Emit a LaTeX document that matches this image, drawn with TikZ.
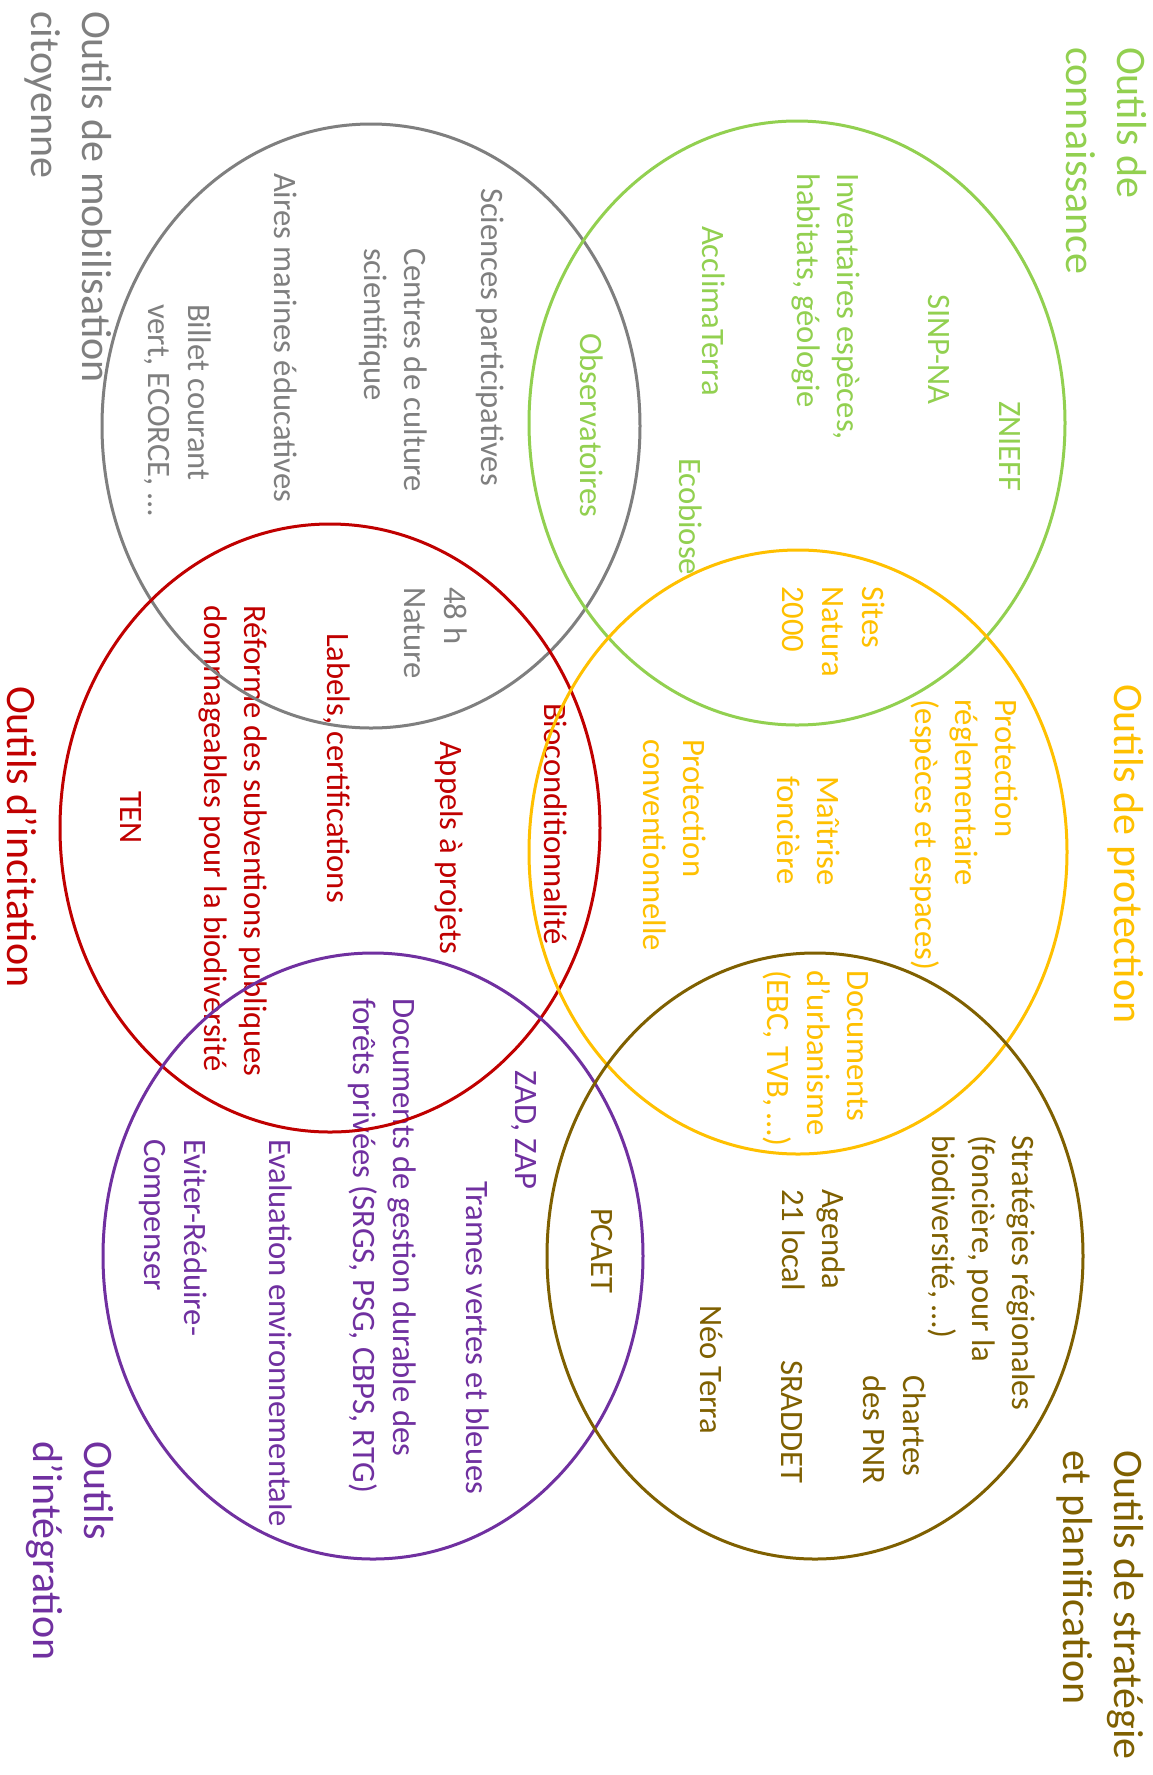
\documentclass[tikz,border=0pt]{standalone}
\usepackage{fontspec}
\setmainfont{Carlito}
\definecolor{cgrey}{HTML}{7F7F7F}
\definecolor{cgreen}{HTML}{92D050}
\definecolor{cyellow}{HTML}{FFC000}
\definecolor{cred}{HTML}{C00000}
\definecolor{cpurple}{HTML}{7030A0}
\definecolor{cbrown}{HTML}{7F6000}
\tikzset{
  lbl/.style={rotate=-90, anchor=north west, inner sep=0pt, outer sep=0pt, align=left,
    font=\fontsize{24.5}{30}\selectfont},
  ttl/.style={rotate=-90, anchor=north west, inner sep=0pt, outer sep=0pt, align=left,
    font=\fontsize{31.5}{38}\selectfont},
  ring/.style={line width=2.25pt},
}
\begin{document}
\begin{tikzpicture}[x=0.75pt,y=-0.75pt]
\fill[white] (0,0) rectangle (1153,1775);
\useasboundingbox (0,0) rectangle (1153,1775);

% titles
\node[ttl,text=cgrey]   (t1) at (117.5,11)   {\strut Outils de mobilisation\\citoyenne};
\node[ttl,text=cgreen]  (t2) at (1152.5,47)  {\strut Outils de\\connaissance};
\node[ttl,text=cred]    (t3) at (42.5,686)   {\strut Outils d’incitation};
\node[ttl,text=cyellow] (t4) at (1149.5,684) {\strut Outils de protection};
\node[ttl,text=cpurple] (t5) at (119.5,1441) {\strut Outils\\d’intégration};
\node[ttl,text=cbrown]  (t6) at (1149.5,1450) {\strut Outils de stratégie\\et planification};

% grey
\node[lbl,text=cgrey] (g1) at (509,188) {\strut Sciences participatives};
\node[lbl,text=cgrey] (g2) at (432,248) {\strut Centres de culture\\scientifique};
\node[lbl,text=cgrey] (g3) at (302,173) {\strut Aires marines éducatives};
\node[lbl,text=cgrey] (g4) at (216,304) {\strut Billet courant\\vert, ECORCE, …};
\node[lbl,text=cgrey] (g5) at (472,587) {\strut 48 h\\Nature};

% green
\node[lbl,text=cgreen] (k1) at (1027,401) {\strut ZNIEFF};
\node[lbl,text=cgreen] (k2) at (956,294) {\strut SINP-NA};
\node[lbl,text=cgreen] (k3) at (865,173) {\strut Inventaires espèces,\\habitats, géologie};
\node[lbl,text=cgreen] (k4) at (730,226) {\strut AcclimaTerra};
\node[lbl,text=cgreen] (k5) at (608,333) {\strut Observatoires};
\node[lbl,text=cgreen] (k6) at (707,458) {\strut Ecobiose};

% red
\node[lbl,text=cred] (r1) at (355,633) {\strut Labels, certifications};
\node[lbl,text=cred] (r2) at (272,605) {\strut Réforme des subventions publiques\\dommageables pour la biodiversité};
\node[lbl,text=cred] (r3) at (148,791) {\strut TEN};
\node[lbl,text=cred] (r4) at (468,741) {\strut Appels à projets};
\node[lbl,text=cred] (r5) at (572,703) {\strut Bioconditionnalité};

% yellow
\node[lbl,text=cyellow] (y1) at (890,586) {\strut Sites\\Natura\\2000};
\node[lbl,text=cyellow] (y2) at (1023,699) {\strut Protection\\réglementaire\\(espèces et espaces)};
\node[lbl,text=cyellow] (y3) at (845,776) {\strut Maîtrise\\foncière};
\node[lbl,text=cyellow] (y4) at (711,739) {\strut Protection\\conventionnelle};
\node[lbl,text=cyellow] (y5) at (875,970) {\strut Documents\\d’urbanisme\\(EBC, TVB, …)};

% purple
\node[lbl,text=cpurple] (p1) at (543,1070) {\strut ZAD, ZAP};
\node[lbl,text=cpurple] (p2) at (421,998) {\strut Documents de gestion durable des\\forêts privées (SRGS, PSG, CBPS, RTG)};
\node[lbl,text=cpurple] (p3) at (494,1181) {\strut Trames vertes et bleues};
\node[lbl,text=cpurple] (p4) at (297,1139) {\strut Evaluation environnementale};
\node[lbl,text=cpurple] (p5) at (212,1139) {\strut Eviter-Réduire-\\Compenser};

% brown
\node[lbl,text=cbrown] (b1) at (619,1208) {\strut PCAET};
\node[lbl,text=cbrown] (b2) at (850,1189) {\strut Agenda\\21 local};
\node[lbl,text=cbrown] (b3) at (728,1305) {\strut Néo Terra};
\node[lbl,text=cbrown] (b4) at (809,1360) {\strut SRADDET};
\node[lbl,text=cbrown] (b5) at (931,1375) {\strut Chartes\\des PNR};
\node[lbl,text=cbrown] (b6) at (1040,1135) {\strut Stratégies régionales\\(foncière, pour la\\biodiversité, …)};

% ellipses
\draw[ring,cgrey]   (371,426)  ellipse [x radius=269, y radius=302];
\draw[ring,cgreen]  (797,423)  ellipse [x radius=268, y radius=302];
\draw[ring,cred]    (330,828)  ellipse [x radius=270, y radius=304];
\draw[ring,cyellow] (798,852)  ellipse [x radius=269, y radius=302];
\draw[ring,cpurple] (373,1256) ellipse [x radius=270, y radius=303];
\draw[ring,cbrown]  (815,1256) ellipse [x radius=268, y radius=303];
\end{tikzpicture}
\end{document}
